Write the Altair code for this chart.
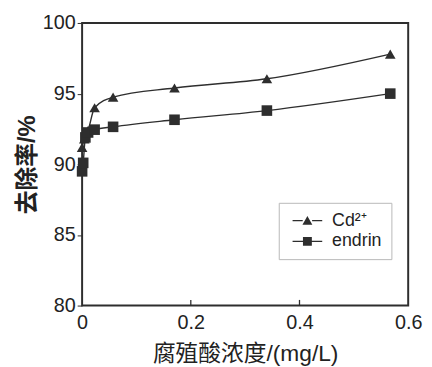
import altair as alt
import pandas as pd

# data
endrin_x = [0, 0.002, 0.006, 0.011, 0.023, 0.057, 0.17, 0.34, 0.567]
endrin_y = [89.5, 90.1, 91.9, 92.25, 92.45, 92.65, 93.15, 93.8, 95.0]
cd_x = [0, 0.004, 0.011, 0.023, 0.057, 0.17, 0.34, 0.567]
cd_y = [91.2, 91.8, 92.4, 94.0, 94.75, 95.4, 96.05, 97.8]
series_names = ["Cd²⁺", "endrin"]
x_ticks = [0.2, 0.4]

rows = [{"x": a, "y": b, "series": series_names[0]} for a, b in zip(cd_x, cd_y)]
rows += [{"x": a, "y": b, "series": series_names[1]} for a, b in zip(endrin_x, endrin_y)]
df = pd.DataFrame(rows)
ticks_df = pd.DataFrame({"t": x_ticks})

FONT = "Liberation Sans, Arial, Noto Sans CJK SC"
INK = "#2e2e2e"

xs = alt.Scale(domain=[0, 0.6], nice=False)
ys = alt.Scale(domain=[80, 100], nice=False)

xax = alt.Axis(values=[0, 0.2, 0.4, 0.6], format="~g", ticks=False, grid=False,
               labelFontSize=20, labelPadding=7, labelFlush=False,
               title="腐殖酸浓度/(mg/L)",
               titleFontSize=23, titleFontWeight="normal", titlePadding=11,
               domain=False)
yax = alt.Axis(values=[80, 85, 90, 95, 100], grid=False, tickSize=5, tickColor=INK,
               labelFontSize=20, labelPadding=2, labelFlush=False,
               title="去除率/%", titleFontSize=24,
               titleFontWeight="bold", titlePadding=3, domain=False)

base = alt.Chart(df)

lines = base.mark_line(color=INK, strokeWidth=1.4, interpolate="monotone").encode(
    x=alt.X("x:Q", scale=xs, axis=xax),
    y=alt.Y("y:Q", scale=ys, axis=yax),
    detail="series:N",
)

points = base.mark_point(filled=True, color=INK, size=115, opacity=1).encode(
    x=alt.X("x:Q", scale=xs),
    y=alt.Y("y:Q", scale=ys),
    shape=alt.Shape("series:N", scale=alt.Scale(domain=series_names,
                                                range=["triangle-up", "square"]),
                    legend=None),
)

TRI_SYM = ("M-0.8,-0.12H1.25V0.12H-0.8Z M3.15,-0.12H5.2V0.12H3.15Z "
           "M1.2,0.85L2.2,-0.95L3.2,0.85Z")
SQ_SYM = ("M-0.8,-0.12H1.35V0.12H-0.8Z M3.05,-0.12H5.2V0.12H3.05Z "
          "M1.3,-0.9H3.1V0.9H1.3Z")

legend_layer = base.transform_filter("false").mark_point(
    filled=True, color=INK, opacity=1, size=100
).encode(
    x=alt.X("x:Q", scale=xs),
    y=alt.Y("y:Q", scale=ys),
    shape=alt.Shape(
        "series:N",
        scale=alt.Scale(domain=series_names, range=[TRI_SYM, SQ_SYM]),
        legend=alt.Legend(title=None, orient="none", legendX=199, legendY=182,
                          labelFontSize=18, symbolSize=100, strokeColor="#b8b8b8",
                          padding=9, rowPadding=3, symbolFillColor=INK,
                          labelColor="#222222", symbolOpacity=1, labelOffset=27),
    ),
)

tick_marks = alt.Chart(ticks_df).mark_rule(color=INK, strokeWidth=1.3).encode(
    x=alt.X("t:Q", scale=xs),
    y=alt.datum(80, scale=ys),
    y2=alt.datum(80.4),
)

chart = alt.layer(lines, points, legend_layer, tick_marks).resolve_scale(
    shape="independent"
).properties(
    width=330, height=286,
    view=alt.ViewBackground(stroke=INK, strokeWidth=2),
    autosize=alt.AutoSizeParams(type="none"),
    padding={"left": 75, "top": 13, "right": 16, "bottom": 59},
).configure(
    font=FONT
).configure_view(
    stroke=INK, strokeWidth=2
).configure_axis(
    labelColor="#222222", titleColor="#222222", labelFont=FONT, titleFont=FONT
)

chart.save("out.html", embed_options={"renderer": "svg", "actions": False})
